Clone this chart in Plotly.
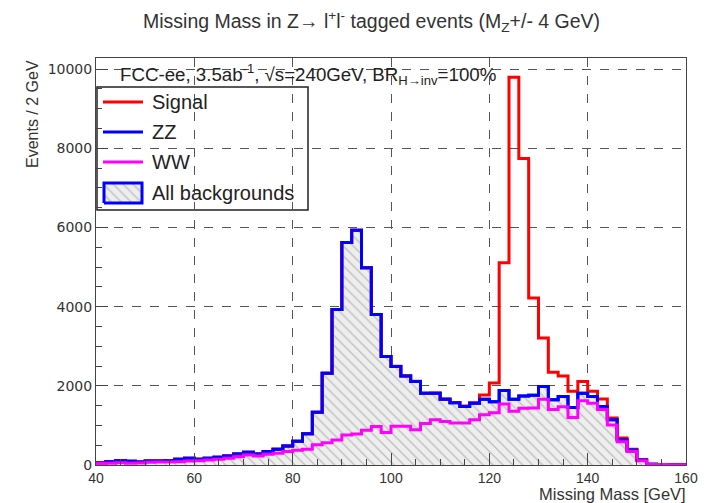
import numpy as np
import plotly.graph_objects as go

# 2 GeV bins of the missing-mass distribution, 40-160 GeV
bin_edges = np.arange(40, 162, 2)

# WW background (events / 2 GeV)
ww = [42, 45, 59, 45, 50, 68, 76, 76, 84, 101,
      110, 127, 143, 169, 211, 253, 228, 270, 295, 338,
      370, 400, 510, 560, 630, 760, 780, 880, 970, 820,
      980, 980, 890, 1050, 1140, 1100, 1060, 1060, 1140, 1270,
      1320, 1540, 1360, 1430, 1440, 1660, 1400, 1470, 1200, 1620,
      1560, 1400, 1010, 590, 340, 110, 15, 10, 8, 8]

# ZZ background (events / 2 GeV), stacked on WW
zz = [17, 39, 51, 48, 26, 32, 24, 34, 59, 68,
      33, 42, 51, 59, 67, 67, 50, 68, 102, 143,
      230, 390, 820, 1760, 3300, 4860, 5150, 4100, 2830, 1920,
      1510, 1270, 1220, 760, 670, 560, 510, 420, 420, 390,
      280, 340, 300, 310, 320, 320, 250, 260, 250, 190,
      170, 80, 130, 50, 40, 17, 5, 5, 2, 2]

# ZH, H->invisible signal (events / 2 GeV), stacked on the backgrounds
signal = [0, 0, 0, 0, 0, 0, 0, 0, 0, 0,
          0, 0, 0, 0, 0, 0, 0, 0, 0, 0,
          0, 0, 0, 0, 0, 0, 0, 0, 0, 2,
          3, 4, 5, 5, 6, 8, 10, 12, 15, 110,
          470, 3225, 8130, 6000, 2460, 1230, 690, 520, 410, 300,
          130, 185, 50, 40, 15, 5, 0, 0, 0, 0]

legend_labels = ["Signal", "ZZ", "WW", "All backgrounds"]
RED, BLUE, MAGENTA = "#ff0000", "#0000ff", "#ff00ff"

ww = np.array(ww, dtype=float)
bkg = ww + np.array(zz, dtype=float)
total = bkg + np.array(signal, dtype=float)


def steps(vals):
    # repeat the last bin so the 'hv' outline closes at the upper edge
    return np.append(vals, vals[-1])


X0, X1 = 96, 686      # plot area, px
Y0, Y1 = 58, 465
XMIN, XMAX = 40, 160
YMAX = 10278


def px(x):
    return (x - X0) / (X1 - X0)


def py(y):
    return (Y1 - y) / (Y1 - Y0)


def data_x(p):
    return XMIN + px(p) * (XMAX - XMIN)


def data_y(p):
    return py(p) * YMAX


hatch = dict(shape="\\", fgcolor="#909090", bgcolor="#eeeeee",
             size=7, solidity=0.2)

fig = go.Figure()

# stacked background area, hatched
fig.add_trace(go.Scatter(
    x=bin_edges, y=steps(bkg), mode="lines", showlegend=False,
    line=dict(shape="hv", color=BLUE, width=3),
    fill="tozeroy", fillpattern=hatch, hoverinfo="skip"))

fig.add_trace(go.Scatter(
    x=bin_edges, y=steps(total), mode="lines", name="Signal",
    line=dict(shape="hv", color=RED, width=3), showlegend=False))

fig.add_trace(go.Scatter(
    x=bin_edges, y=steps(bkg), mode="lines", name="ZZ",
    line=dict(shape="hv", color=BLUE, width=3), showlegend=False))

fig.add_trace(go.Scatter(
    x=bin_edges, y=steps(ww), mode="lines", name="WW",
    line=dict(shape="hv", color=MAGENTA, width=3), showlegend=False))

# legend: box, keys and labels
LEG_L, LEG_R, LEG_T, LEG_B = 97, 308, 87, 210
rows = [102, 132, 162, 193]
shapes = [dict(type="rect", xref="paper", yref="paper",
               x0=px(LEG_L), x1=px(LEG_R), y0=py(LEG_B), y1=py(LEG_T),
               fillcolor="white", line=dict(color="#222222", width=1.5),
               layer="between")]
for yy, col in zip(rows[:3], [RED, BLUE, MAGENTA]):
    shapes.append(dict(type="line", xref="paper", yref="paper",
                       x0=px(103), x1=px(143), y0=py(yy), y1=py(yy),
                       line=dict(color=col, width=3), layer="above"))

kx0, kx1 = data_x(104), data_x(142)
ky0, ky1 = data_y(rows[3] + 10), data_y(rows[3] - 10)
fig.add_trace(go.Scatter(
    x=[kx0, kx1, kx1, kx0, kx0], y=[ky0, ky0, ky1, ky1, ky0],
    mode="lines", fill="toself", fillpattern=hatch,
    line=dict(color=BLUE, width=3), showlegend=False, hoverinfo="skip"))

annotations = [
    dict(text=lab, x=px(150), y=py(yy), xref="paper", yref="paper",
         xanchor="left", yanchor="middle", showarrow=False,
         font=dict(size=20, color="#222222"))
    for lab, yy in zip(legend_labels, rows)
]

annotations += [
    dict(text="Missing Mass in Z\u2192 l<sup>+</sup>l<sup>-</sup> tagged events "
              "(M<sub>Z</sub>+/- 4 GeV)",
         x=px(371), y=py(22), xref="paper", yref="paper",
         xanchor="center", yanchor="middle", showarrow=False,
         font=dict(size=19.5, color="#333333")),
    dict(text="FCC-ee, 3.5ab<sup>-1</sup>, \u221as=240GeV, "
              "BR<sub>H\u2192inv</sub>=100%",
         x=px(118), y=py(74), xref="paper", yref="paper",
         xanchor="left", yanchor="middle", showarrow=False,
         font=dict(size=18.7, color="#222222")),
    dict(text="Missing Mass [GeV]",
         x=px(688), y=py(494), xref="paper", yref="paper",
         xanchor="right", yanchor="middle", showarrow=False,
         font=dict(size=16.5, color="#333333")),
    dict(text="Events / 2 GeV", textangle=-90,
         x=px(32), y=py(58), xref="paper", yref="paper",
         xanchor="center", yanchor="top", showarrow=False,
         font=dict(size=16, color="#333333")),
]

axis_common = dict(
    showline=True, linecolor="#444444", linewidth=1, mirror=True,
    ticks="inside", tickcolor="#444444", ticklen=12,
    showgrid=True, gridcolor="#555555", griddash="dash", gridwidth=1,
    zeroline=False,
)

fig.update_xaxes(
    range=[XMIN, XMAX], dtick=20, tick0=40,
    tickfont=dict(family="Liberation Sans", size=14, color="#333333"),
    minor=dict(dtick=5, ticks="inside", ticklen=6, tickcolor="#444444",
               showgrid=False),
    **axis_common)

fig.update_yaxes(
    range=[0, YMAX], dtick=2000, tick0=0, tickformat="d",
    tickfont=dict(family="DejaVu Sans", size=14, color="#333333"),
    minor=dict(dtick=500, ticks="inside", ticklen=6, tickcolor="#444444",
               showgrid=False),
    **axis_common)

fig.update_layout(
    width=712, height=503,
    margin=dict(l=X0, r=712 - X1, t=Y0, b=503 - Y1, pad=0),
    paper_bgcolor="white", plot_bgcolor="white",
    font=dict(family="Liberation Sans", color="#222222"),
    showlegend=False,
    shapes=shapes,
    annotations=annotations,
)

fig.write_html("out.html")
